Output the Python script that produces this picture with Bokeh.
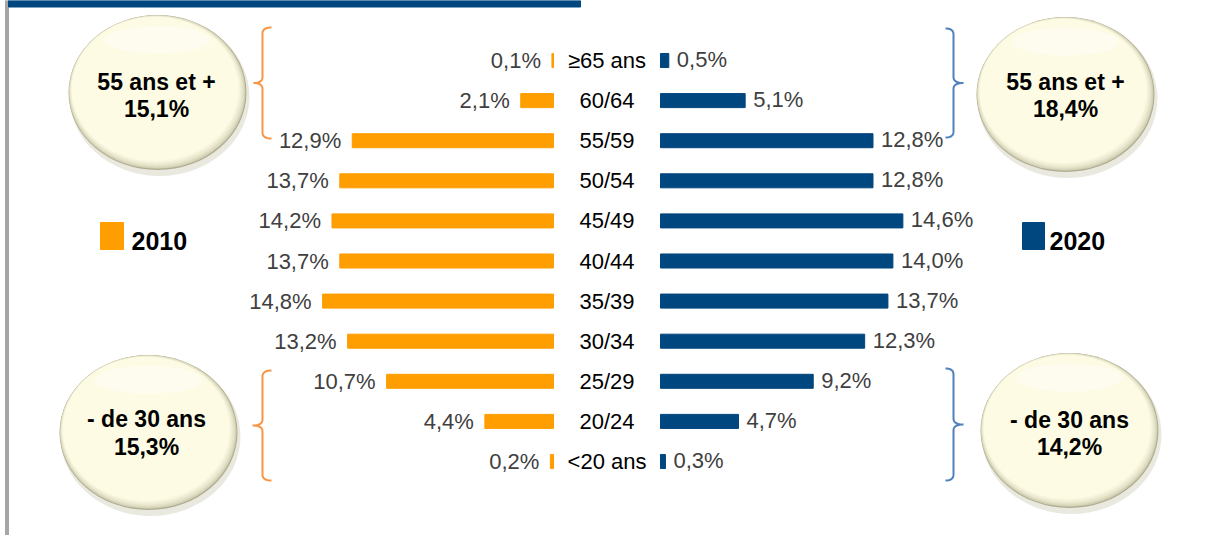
from bokeh.plotting import figure
from bokeh.models import Range1d, ColumnDataSource
from bokeh.core.properties import value
from bokeh.embed import file_html
from bokeh.resources import INLINE

# ---------------- data ----------------
categories = ["≥65 ans", "60/64", "55/59", "50/54", "45/49", "40/44",
              "35/39", "30/34", "25/29", "20/24", "<20 ans"]
share_2010 = [0.1, 2.1, 12.9, 13.7, 14.2, 13.7, 14.8, 13.2, 10.7, 4.4, 0.2]
share_2020 = [0.5, 5.1, 12.8, 12.8, 14.6, 14.0, 13.7, 12.3, 9.2, 4.7, 0.3]
series_names = ["2010", "2020"]
group_names = ["55 ans et +", "- de 30 ans"]
group_rows = [[0, 1, 2], [8, 9, 10]]

ORANGE = "#ff9e00"
BLUE = "#00467f"
BRACE_OR = "#f79646"
BRACE_BL = "#4f81bd"
FONT = value("Liberation Sans")


def fr(v):
    return f"{v:.1f}".replace(".", ",") + "%"


W, H = 1189, 535
p = figure(width=W, height=H, output_backend="svg", toolbar_location=None,
           x_range=Range1d(0, W), y_range=Range1d(H, 0),
           x_axis_type=None, y_axis_type=None, min_border=0,
           outline_line_color=None, background_fill_color="white",
           border_fill_color="white")
p.grid.visible = False

# scales for the two half-charts and the rows
X0_L, K_L = 553.0, 15.6
X0_R, K_R = 660.0, 16.6
Y0, DY = 60.0, 40.1
p.extra_x_ranges = {
    "left": Range1d(start=X0_L / K_L, end=(X0_L - W) / K_L),
    "right": Range1d(start=-X0_R / K_R, end=(W - X0_R) / K_R),
}
p.extra_y_ranges = {"rows": Range1d(start=(H - Y0) / DY, end=-Y0 / DY)}

rows = list(range(len(categories)))
src = ColumnDataSource(dict(
    row=rows, cat=categories, v2010=share_2010, v2020=share_2020,
    l2010=[fr(v) for v in share_2010], l2020=[fr(v) for v in share_2020],
    mid=[606.5] * len(rows),
))

# decorations: frame line and top band
p.quad(left=5, right=8, bottom=H, top=0, color="#a6a6a6")
p.quad(left=8, right=580, bottom=6.5, top=0, color=BLUE)

# bars
p.hbar(y="row", left=0, right="v2010", height=0.35, source=src, color=ORANGE,
       x_range_name="left", y_range_name="rows")
p.hbar(y="row", left=0, right="v2020", height=0.35, source=src, color=BLUE,
       x_range_name="right", y_range_name="rows")

# value labels
p.text(x="v2010", y="row", text="l2010", source=src, x_range_name="left",
       y_range_name="rows", x_offset=-11, text_align="right",
       text_baseline="middle", text_font=FONT, text_font_size="22px",
       text_color="#404040")
p.text(x="v2020", y="row", text="l2020", source=src, x_range_name="right",
       y_range_name="rows", x_offset=8, y_offset=-1, text_align="left",
       text_baseline="middle", text_font=FONT, text_font_size="22px",
       text_color="#404040")
# category labels
p.text(x="mid", y="row", text="cat", source=src, y_range_name="rows",
       text_align="center", text_baseline="middle", text_font=FONT,
       text_font_size="22px", text_color="black")


# braces
def brace(x_line, x_hook, x_tip, y_top, y_bot, color):
    y_mid = (y_top + y_bot) / 2
    r = 6
    xs, ys = [], []

    def qcurve(p0, c, p1, n=10):
        for i in range(n + 1):
            t = i / n
            xs.append((1 - t) ** 2 * p0[0] + 2 * (1 - t) * t * c[0] + t ** 2 * p1[0])
            ys.append((1 - t) ** 2 * p0[1] + 2 * (1 - t) * t * c[1] + t ** 2 * p1[1])

    qcurve((x_hook, y_top), (x_line, y_top), (x_line, y_top + r))
    qcurve((x_line, y_mid - r), (x_line, y_mid), (x_tip, y_mid))
    qcurve((x_tip, y_mid), (x_line, y_mid), (x_line, y_mid + r))
    qcurve((x_line, y_bot - r), (x_line, y_bot), (x_hook, y_bot))
    p.line(xs, ys, line_color=color, line_width=2)


brace(262, 271, 253, 27, 138, BRACE_OR)
brace(262, 271, 252, 370, 480, BRACE_OR)
brace(953, 945, 963, 28, 137, BRACE_BL)
brace(953, 945, 963, 368, 480, BRACE_BL)


# spheres
def mix(c1, c2, t):
    a = [int(c1[i:i + 2], 16) for i in (1, 3, 5)]
    b = [int(c2[i:i + 2], 16) for i in (1, 3, 5)]
    return "#" + "".join(f"{round(a[i] + (b[i] - a[i]) * t):02x}" for i in range(3))


def sphere(cx, cy, w, h):
    p.ellipse(x=cx + 2, y=cy + 4, width=w + 2, height=h + 4,
              fill_color="#dcdacb", fill_alpha=0.6, line_color=None)
    n = 9
    for k in range(n):
        t = (k / (n - 1)) ** 0.4
        p.ellipse(x=cx - 0.3 * k, y=cy - 0.45 * k, width=w - 1.4 * k,
                  height=h - 1.4 * k, fill_color=mix("#aeab8e", "#fdfbe3", t),
                  line_color=None)
    p.ellipse(x=cx, y=cy - h * 0.34, width=w * 0.6, height=h * 0.18,
              fill_color="white", fill_alpha=0.4, line_color=None)


sphere_pos = [(157, 92), (1065, 94), (148, 432), (1069, 430)]
for (cx, cy) in sphere_pos:
    sphere(cx, cy, 178, 155)

sums = {
    (0, 1): sum(share_2010[i] for i in group_rows[0]),
    (0, 2): sum(share_2020[i] for i in group_rows[0]),
    (1, 1): sum(share_2010[i] for i in group_rows[1]),
    (1, 2): sum(share_2020[i] for i in group_rows[1]),
}
circ_text = [
    (156, 81, 108, 0, 1),
    (1065, 81, 108, 0, 2),
    (146, 418, 446, 1, 1),
    (1069, 419, 446, 1, 2),
]
for cx, y1, y2, g, s in circ_text:
    p.text(x=[cx, cx], y=[y1, y2], text=[group_names[g], fr(sums[(g, s)])],
           text_align="center", text_baseline="middle", text_font=FONT,
           text_font_size="23px", text_font_style="bold", text_color="black")

# legend
p.quad(left=100, right=123, top=222, bottom=249, color=ORANGE)
p.text(x=[131], y=[240], text=[series_names[0]], text_align="left",
       text_baseline="middle", text_font=FONT, text_font_size="25px",
       text_font_style="bold", text_color="black")
p.quad(left=1022, right=1044, top=222, bottom=249, color=BLUE)
p.text(x=[1049], y=[240], text=[series_names[1]], text_align="left",
       text_baseline="middle", text_font=FONT, text_font_size="25px",
       text_font_style="bold", text_color="black")

open("out.html", "w").write(file_html(p, INLINE))
